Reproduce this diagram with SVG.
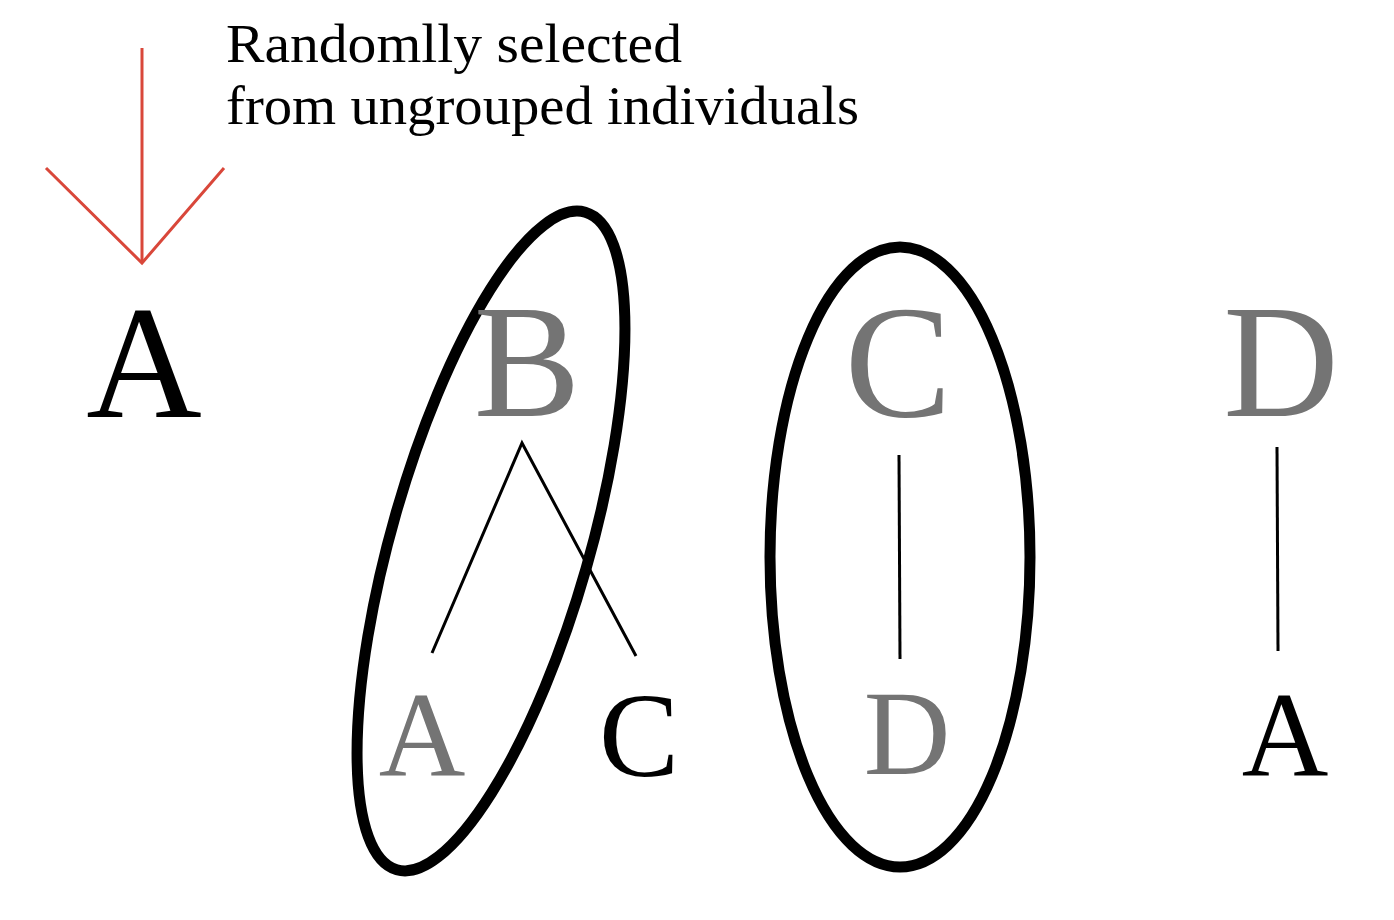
<svg xmlns="http://www.w3.org/2000/svg" width="1394" height="920" viewBox="0 0 1394 920">
<style>
.big{font-family:"Liberation Serif","Times New Roman",serif;text-anchor:middle}
.r1{font-size:160px}
.r2{font-size:120px}
.gray{fill:#747474}
.blk{fill:#000}
.note{font-family:"Liberation Serif","Times New Roman",serif;font-size:54px;fill:#000}
.edge{stroke:#000;stroke-width:3;fill:none}
.group{stroke:#000;stroke-width:11;fill:none}
.arrow{stroke:#d9473a;stroke-width:3;fill:none}
</style>
<rect width="1394" height="920" fill="#fff"/>
<g id="annotation">
<text class="note" x="226" y="62" textLength="456" lengthAdjust="spacingAndGlyphs">Randomlly selected</text>
<text class="note" x="226" y="124" textLength="633" lengthAdjust="spacingAndGlyphs">from ungrouped individuals</text>
</g>
<g id="arrow">
<line class="arrow" x1="142" y1="48" x2="142" y2="263"/>
<polyline class="arrow" points="46,168 142,263 224,168"/>
</g>
<g id="groups">
<ellipse id="group-BA" class="group" cx="491" cy="541" rx="99" ry="342" transform="rotate(16 491 541)"/>
<ellipse id="group-CD" class="group" cx="900" cy="557" rx="130" ry="310"/>
</g>
<g id="connectors">
<polyline class="edge" points="432,653 522,443 636,656"/>
<line class="edge" x1="899" y1="455" x2="900" y2="659"/>
<line class="edge" x1="1277" y1="447" x2="1278" y2="651"/>
</g>
<g id="node-A-top"><text class="big r1 blk" x="144" y="417">A</text></g>
<g id="node-B"><text class="big r1 gray" x="527" y="416">B</text></g>
<g id="node-C-top"><text class="big r1 gray" x="898" y="416">C</text></g>
<g id="node-D-top"><text class="big r1 gray" x="1281" y="416">D</text></g>
<g id="node-A-gray"><text class="big r2 gray" x="422" y="776">A</text></g>
<g id="node-C-bottom"><text class="big r2 blk" x="639" y="776">C</text></g>
<g id="node-D-bottom"><text class="big r2 gray" x="907" y="774">D</text></g>
<g id="node-A-bottom"><text class="big r2 blk" x="1285" y="776">A</text></g>
</svg>
